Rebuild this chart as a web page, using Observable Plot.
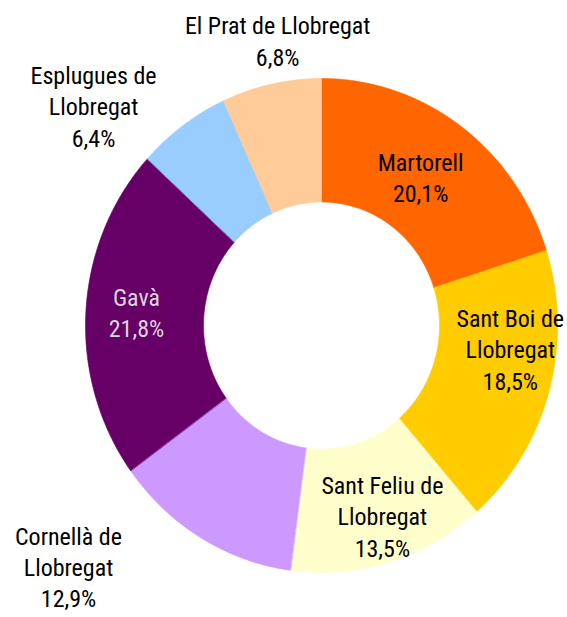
<!DOCTYPE html>
<html>
<head>
<meta charset="utf-8">
<script src="https://cdn.jsdelivr.net/npm/d3@7"></script>
<script src="https://cdn.jsdelivr.net/npm/@observablehq/plot@0.6"></script>
<style>
  html, body { margin: 0; padding: 0; background: #fff; }
</style>
</head>
<body>
<div id="chart"></div>
<script>
// Data
const names = ["Martorell", "Sant Boi de Llobregat", "Sant Feliu de Llobregat", "Cornellà de Llobregat", "Gavà", "Esplugues de Llobregat", "El Prat de Llobregat"];
const shares = [20.1, 18.5, 13.5, 12.9, 21.8, 6.4, 6.8];
const colors = ["#FF6600", "#FFCC00", "#FFFFCC", "#CC99FF", "#660066", "#99CCFF", "#FFCC99"];
const labelLines = ["Martorell", "Sant Boi de\nLlobregat", "Sant Feliu de\nLlobregat", "Cornellà de\nLlobregat", "Gavà", "Esplugues de\nLlobregat", "El Prat de Llobregat"];

// Label anchor positions (data units, ring outer radius = 1)
const labelX = [0.42, 0.80, 0.258, -1.072, -0.784, -0.966, -0.186];
const labelY = [0.603, -0.093, -0.769, -0.975, 0.057, 0.891, 1.156];
const labelFill = ["#000", "#000", "#000", "#000", "#DCD4DC", "#000", "#000"];

const innerR = 0.5;
const total = d3.sum(shares);

// Build ring slice polygons
const pts = [];
let cum = 0;
names.forEach((name, i) => {
  const a0 = cum / total * 2 * Math.PI;
  cum += shares[i];
  const a1 = cum / total * 2 * Math.PI;
  const n = Math.max(8, Math.ceil((a1 - a0) / (Math.PI / 180)));
  for (let k = 0; k <= n; k++) {
    const a = a0 + (a1 - a0) * k / n;
    pts.push({name, x: Math.sin(a), y: Math.cos(a)});
  }
  for (let k = n; k >= 0; k--) {
    const a = a0 + (a1 - a0) * k / n;
    pts.push({name, x: innerR * Math.sin(a), y: innerR * Math.cos(a)});
  }
});

const labels = names.map((name, i) => ({
  name,
  x: labelX[i],
  y: labelY[i],
  fill: labelFill[i],
  text: labelLines[i] + "\n" + shares[i].toFixed(1).replace(".", ",") + "%"
}));

const chart = Plot.plot({
  width: 567,
  height: 617,
  margin: 0,
  x: {domain: [-1, 1], range: [85, 557], axis: null},
  y: {domain: [-1, 1], range: [572, 78], axis: null},
  color: {domain: names, range: colors},
  style: {background: "#fff", overflow: "visible"},
  marks: [
    Plot.line(pts, {x: "x", y: "y", z: "name", fill: "name", stroke: "name", strokeWidth: 0.6, curve: "linear-closed"}),
    Plot.text(labels, {
      x: "x", y: "y", text: "text", fill: "fill",
      fontSize: 24, lineHeight: 1.3,
      fontFamily: "'Liberation Sans Narrow', 'Arial Narrow', 'Roboto Condensed', 'Liberation Sans', Arial, sans-serif"
    })
  ]
});
document.getElementById("chart").appendChild(chart);
</script>
</body>
</html>
